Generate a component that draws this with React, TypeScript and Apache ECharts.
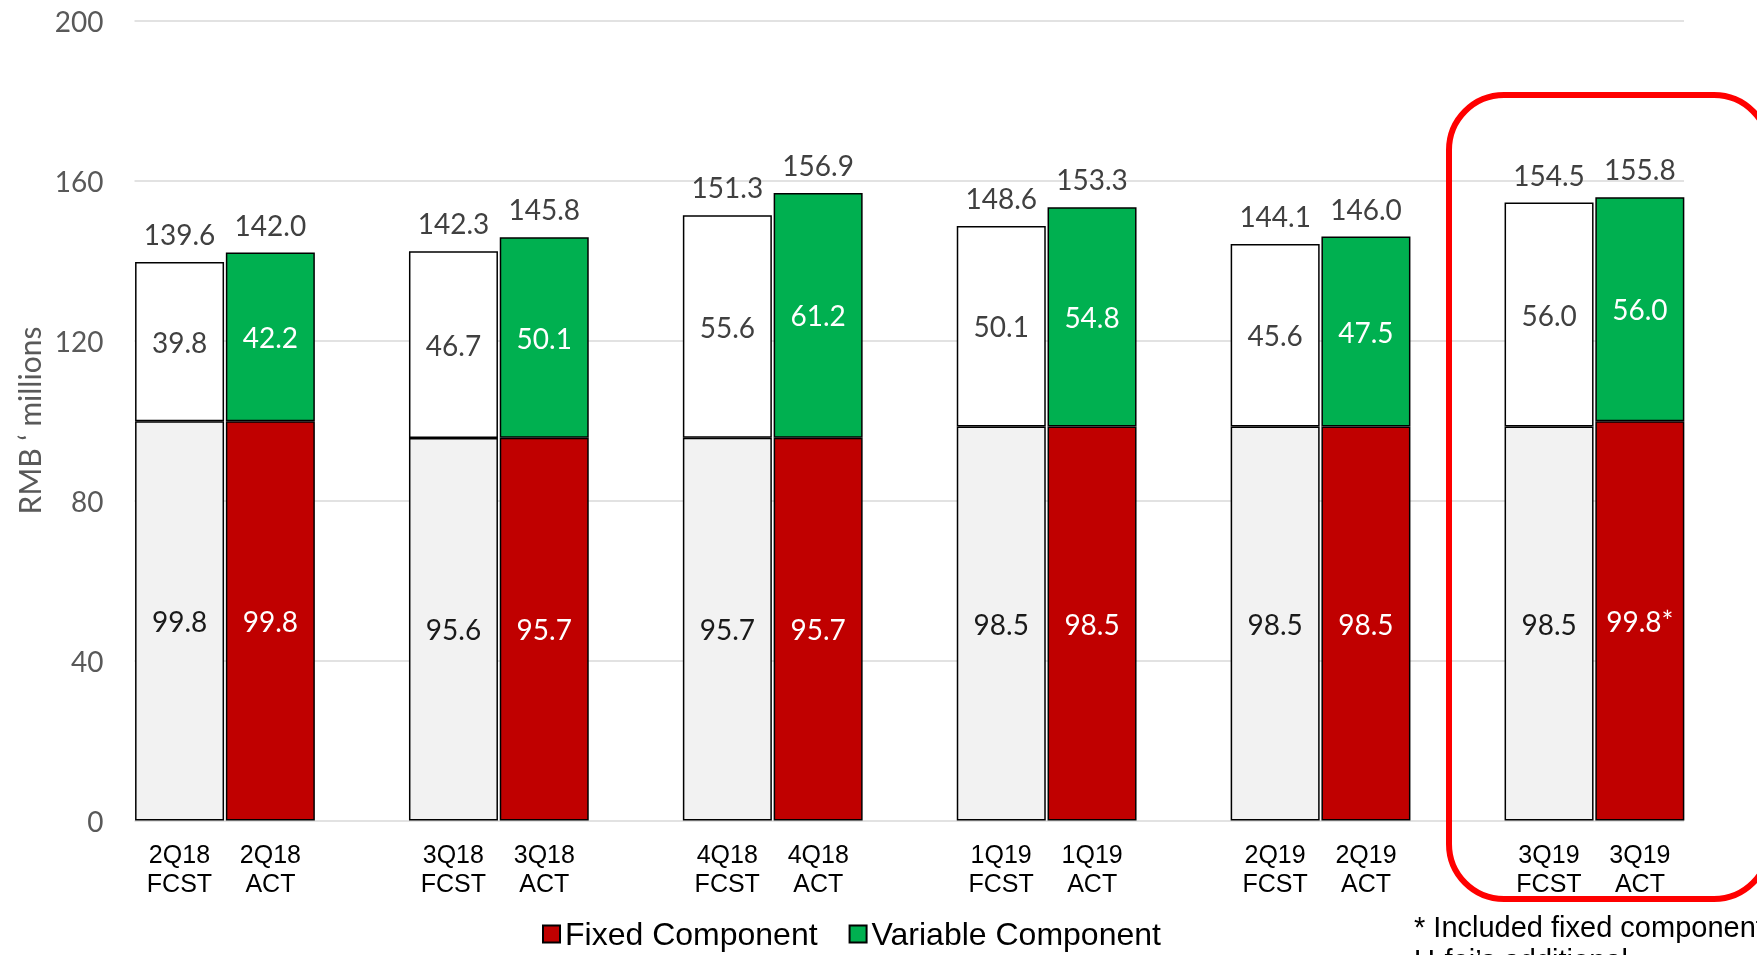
import React, { useEffect, useRef } from "react";
import * as echarts from "echarts";

const quarters = ["2Q18", "3Q18", "4Q18", "1Q19", "2Q19", "3Q19"];
const fcstFixed = [99.8, 95.6, 95.7, 98.5, 98.5, 98.5];
const fcstVariable = [39.8, 46.7, 55.6, 50.1, 45.6, 56.0];
const fcstTotal = [139.6, 142.3, 151.3, 148.6, 144.1, 154.5];
const actFixed = [99.8, 95.7, 95.7, 98.5, 98.5, 99.8];
const actFixedNote = ["", "", "", "", "", "*"];
const actVariable = [42.2, 50.1, 61.2, 54.8, 47.5, 56.0];
const actTotal = [142.0, 145.8, 156.9, 153.3, 146.0, 155.8];
const yTicks = { min: 0, max: 200, interval: 40 };
const yTitle = "RMB ‘ millions";
const legendNames = ["Fixed Component", "Variable Component"];
const footnoteLines = ["* Included fixed component", "U-fei’s additional"];

const NUM_FONT = "Lato, 'Open Sans', sans-serif";
const ARIAL = "'Liberation Sans', Arial, sans-serif";

export default function App() {
  const ref = useRef<HTMLDivElement>(null);
  useEffect(() => {
    if (!ref.current) return;
    const chart = echarts.init(ref.current, undefined, { renderer: "svg" });
    const border = { borderColor: "#000000", borderWidth: 1.5 };
    const inLabel = (color: string, fmt?: (p: any) => string) => ({
      show: true,
      position: "inside",
      fontFamily: NUM_FONT,
      fontSize: 28,
      color,
      formatter: fmt || ((p: any) => Number(p.value).toFixed(1)),
    });
    const totalLabel = (arr: number[]) => ({
      show: true,
      position: "top",
      distance: 13,
      fontFamily: NUM_FONT,
      fontSize: 28,
      lineHeight: 30,
      color: "#404040",
      formatter: (p: any) => arr[p.dataIndex].toFixed(1),
    });
    const common = {
      type: "bar",
      xAxisIndex: 1,
      yAxisIndex: 1,
      barWidth: 89,
      barGap: "2%",
      stackStrategy: "all",
    };
    chart.setOption({
      animation: false,
      grid: [
        { left: 134.5, right: 73, top: 20.5, bottom: 134.5 },
        { left: 88, right: 25.6, top: 20.5, bottom: 134.5 },
      ],
      xAxis: [
        { gridIndex: 0, type: "value", show: false, min: 0, max: 1 },
        {
          gridIndex: 1,
          type: "category",
          data: quarters,
          axisLine: { show: false },
          axisTick: { show: false },
          axisLabel: {
            interval: 0,
            margin: 19,
            fontFamily: ARIAL,
            fontSize: 25,
            lineHeight: 29,
            color: "#000000",
            formatter: (v: string) => `{f|${v}}{g|}{a|${v}}\n{f|FCST}{g|}{a|ACT}`,
            rich: {
              f: { width: 89, align: "center", fontFamily: ARIAL, fontSize: 25, lineHeight: 29, color: "#000" },
              g: { width: 2 },
              a: { width: 89, align: "center", fontFamily: ARIAL, fontSize: 25, lineHeight: 29, color: "#000" },
            },
          },
        },
      ],
      yAxis: [
        {
          gridIndex: 0,
          type: "value",
          min: yTicks.min,
          max: yTicks.max,
          interval: yTicks.interval,
          name: yTitle,
          nameLocation: "middle",
          nameGap: 88,
          nameTextStyle: { fontFamily: NUM_FONT, fontSize: 30, color: "#595959" },
          axisLine: { show: false },
          axisTick: { show: false },
          axisLabel: { margin: 31, fontFamily: NUM_FONT, fontSize: 28, color: "#595959" },
          splitLine: { show: true, lineStyle: { color: "#d9d9d9", width: 1.5 } },
        },
        { gridIndex: 1, type: "value", min: yTicks.min, max: yTicks.max, show: false, splitLine: { show: false } },
      ],
      legend: {
        data: legendNames,
        left: 542,
        top: 918,
        padding: 0,
        itemWidth: 17,
        itemHeight: 17,
        itemGap: 31,
        icon: "rect",
        textStyle: { fontFamily: ARIAL, fontSize: 32, color: "#000" },
        selectedMode: false,
      },
      series: [
        {
          ...common,
          name: "FCST Fixed",
          stack: "fcst",
          data: fcstFixed,
          itemStyle: { color: "#f2f2f2", ...border },
          label: inLabel("#1a1a1a"),
        },
        {
          ...common,
          name: "FCST Variable",
          stack: "fcst",
          data: fcstVariable,
          itemStyle: { color: "#ffffff", ...border },
          label: inLabel("#404040"),
        },
        {
          ...common,
          name: "FCST Total",
          stack: "fcst",
          data: fcstTotal.map(() => 0),
          itemStyle: { color: "transparent", borderWidth: 0 },
          label: totalLabel(fcstTotal),
        },
        {
          ...common,
          name: legendNames[0],
          stack: "act",
          data: actFixed,
          itemStyle: { color: "#c00000", ...border },
          label: inLabel("#ffffff", (p: any) => Number(p.value).toFixed(1) + actFixedNote[p.dataIndex]),
        },
        {
          ...common,
          name: legendNames[1],
          stack: "act",
          data: actVariable,
          itemStyle: { color: "#00b050", ...border },
          label: inLabel("#ffffff"),
        },
        {
          ...common,
          name: "ACT Total",
          stack: "act",
          data: actTotal.map(() => 0),
          itemStyle: { color: "transparent", borderWidth: 0 },
          label: totalLabel(actTotal),
        },
      ],
      graphic: [
        {
          type: "rect",
          shape: { x: 1449, y: 95, width: 320, height: 804, r: 55 },
          style: { fill: "none", stroke: "#ff0000", lineWidth: 6 },
          z: 100,
        },
        {
          type: "text",
          x: 1414,
          y: 927,
          style: {
            text: footnoteLines[0],
            fontFamily: ARIAL,
            fontSize: 29,
            fill: "#000",
            verticalAlign: "middle",
          },
        },
        {
          type: "text",
          x: 1414,
          y: 960,
          style: {
            text: footnoteLines[1],
            fontFamily: ARIAL,
            fontSize: 29,
            fill: "#000",
            verticalAlign: "middle",
          },
        },
      ],
    });
    return () => chart.dispose();
  }, []);
  return <div ref={ref} style={{ position: "fixed", left: 0, top: 0, width: 1757, height: 955 }} />;
}
